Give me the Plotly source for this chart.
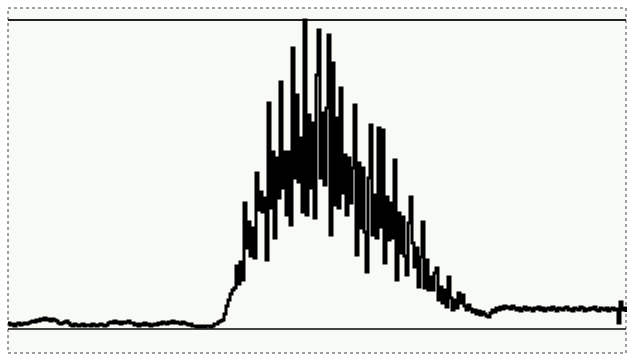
import plotly.graph_objects as go

# Signal samples (arbitrary amplitude units; 0 = baseline reference, 308 = full-scale reference)
baseline_part = [
    5, 3, 4, 2,
    4, 5, 3, 4, 5, 4, 5, 6,
    7, 6, 8, 7, 9, 8,
    10, 8, 9, 7, 9, 8, 7,
    5, 4, 5,
    6, 7, 5,
    3, 2, 4, 3, 2, 3, 4, 2, 3, 3, 2, 4, 3, 2, 3, 4, 3, 2, 3,
    5, 6, 5, 7, 5, 6, 4, 6, 5, 6, 7, 5, 5,
    3, 4, 2, 4, 3, 5, 3, 4, 2, 3, 4, 3,
    5, 4, 6, 5, 4, 6, 5, 7, 5, 6, 5, 4, 6, 5, 4,
    3, 4, 2,
    2, 1, 2, 1, 2, 1, 2, 2, 1, 2,
    4, 4, 6, 7, 8,
]
peak_part = [
    14, 22, 28, 34, 38, 40, 62, 44, 66, 48,
    125, 80, 106, 72, 100, 70, 155, 118, 136, 116,
    130, 68, 225, 120, 176, 90, 170, 130, 246, 140,
    176, 113, 176, 103, 280, 150, 233, 146, 190, 116,
    308, 113, 213, 140, 205, 110, 253, 298, 150, 215,
    143, 220, 293, 93, 265, 123, 210, 120, 240, 135,
    173, 113, 170, 125, 160, 223, 73, 165, 100, 160,
    96, 56, 150, 203, 93, 133, 90, 200, 101, 198,
    65, 131, 88, 125, 90, 168, 48, 115, 75, 111,
    72, 53, 105, 131, 85, 61, 80, 41, 71, 106,
    40, 68, 38, 51, 38, 55, 60, 28, 41, 25,
    38, 21, 51, 30, 18, 28, 20, 35, 25, 33,
    22, 18, 23, 19, 16, 18, 14, 17, 13, 16,
    14, 12, 11, 15, 18, 16, 20, 18, 21, 19,
    22, 20, 21, 19, 22, 20,
]
tail_part = [
    18, 20, 17, 19, 21, 18, 20, 19, 17, 20,
    19, 21, 18, 20, 17, 19, 20, 18, 21, 19,
    17, 20, 19, 18, 20, 21, 18, 19, 17, 20,
    19, 18, 21, 20, 17, 19, 18, 20, 19, 21,
    18, 17, 20, 19, 18, 20, 17, 19, 20, 18,
    19, 5, 26, 18, 20, 16,
]
signal = baseline_part + peak_part + tail_part
sample = list(range(len(signal)))

ref_low = 0
ref_high = 308

fig = go.Figure()
fig.add_trace(go.Scatter(
    x=sample, y=signal, mode="lines",
    line=dict(color="#000000", width=3, shape="hv"),
    hoverinfo="skip", showlegend=False,
))

last = sample[-1]
fig.add_shape(type="rect", xref="x", yref="y", x0=0, x1=last, y0=-25, y1=320,
              line=dict(color="#444444", width=1, dash="dot"),
              fillcolor="#f8faf6", layer="below")
fig.add_shape(type="line", xref="x", yref="y", x0=0, x1=last, y0=ref_high, y1=ref_high,
              line=dict(color="#222222", width=2), layer="below")
fig.add_shape(type="line", xref="x", yref="y", x0=0, x1=last, y0=ref_low - 1, y1=ref_low - 1,
              line=dict(color="#444444", width=2), layer="below")

fig.update_layout(
    width=627, height=356,
    margin=dict(l=0, r=0, t=0, b=0),
    paper_bgcolor="#ffffff", plot_bgcolor="#ffffff",
    xaxis=dict(range=[-4, 309.5], visible=False, fixedrange=True),
    yaxis=dict(range=[-28, 328], visible=False, fixedrange=True),
    showlegend=False,
)
fig.write_html("out.html")
